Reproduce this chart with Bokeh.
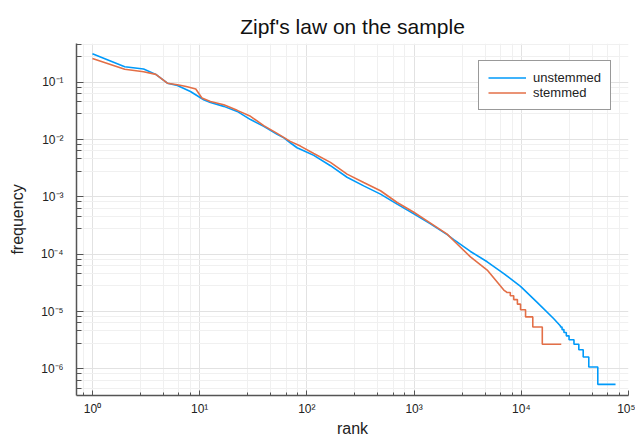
from bokeh.plotting import figure
from bokeh.models import Range1d, FixedTicker, CustomJSTickFormatter, Legend, LegendItem
from bokeh.embed import file_html
from bokeh.resources import INLINE

# ---- data (rank, relative frequency) ----
unstemmed_rank = [1, 2, 3, 3.9, 5, 6.2, 8.2, 10.9, 12.6, 16.8, 22.4, 29.8, 39.6, 52.8, 61, 70,
                  81, 93.5, 116, 166, 237, 339, 486, 695, 994, 1422, 2036, 2345, 3357, 4808,
                  6870, 9840, 14060, 20100, 23200]
unstemmed_freq = [0.313, 0.186, 0.17, 0.137, 0.096, 0.0875, 0.069, 0.0494, 0.0444, 0.0379, 0.031,
                  0.0223, 0.017, 0.0123, 0.0107, 0.0088, 0.0072, 0.0064, 0.0053, 0.0035, 0.0022,
                  0.00156, 0.00112, 0.00075, 0.000506, 0.000339, 0.00022, 0.00018, 0.000112,
                  0.000074, 0.000046, 0.0000275, 0.0000145, 0.0000075, 0.0000056]
# tail: frequency levels and the rank where each level ends
unstemmed_tail_level = [5.4e-6, 4.86e-6, 4.32e-6, 3.78e-6, 3.24e-6, 2.7e-6, 2.16e-6, 1.62e-6, 1.08e-6, 5.4e-7]
unstemmed_tail_end = [24000, 25000, 26300, 27900, 31000, 34400, 37800, 42600, 51700, 75700]

stemmed_rank = [1, 2, 3, 3.9, 5, 6.2, 7.5, 9.2, 10.5, 12.6, 16.8, 22.4, 29.8, 39.6, 52.8, 70, 87,
                116, 166, 237, 339, 486, 695, 994, 1422, 2036, 2345, 3357, 4808, 6870, 7300]
stemmed_freq = [0.26, 0.168, 0.152, 0.137, 0.096, 0.090, 0.084, 0.076, 0.053, 0.046, 0.0405,
                0.0323, 0.0254, 0.0175, 0.0128, 0.0093, 0.0077, 0.0057, 0.004, 0.0025, 0.00178,
                0.00128, 0.0008, 0.00054, 0.000349, 0.000225, 0.000172, 0.00009, 0.000053,
                0.0000238, 0.0000218]
stemmed_tail_level = [2.16e-5, 1.89e-5, 1.62e-5, 1.35e-5, 1.08e-5, 8.1e-6, 5.4e-6, 2.7e-6]
stemmed_tail_end = [7900, 8500, 9200, 9840, 10960, 12800, 15700, 23600]

x_ticks = [1, 10, 100, 1000, 10000, 100000]
y_ticks = [1e-6, 1e-5, 1e-4, 1e-3, 1e-2, 1e-1]


def with_tail(rank, freq, levels, ends):
    xs, ys = list(rank), list(freq)
    for lvl, end in zip(levels, ends):
        xs.append(xs[-1]); ys.append(lvl)
        xs.append(end); ys.append(lvl)
    return xs, ys


ux, uy = with_tail(unstemmed_rank, unstemmed_freq, unstemmed_tail_level, unstemmed_tail_end)
sx, sy = with_tail(stemmed_rank, stemmed_freq, stemmed_tail_level, stemmed_tail_end)

FONT = "Liberation Sans"

p = figure(width=635, height=439, x_axis_type="log", y_axis_type="log",
           x_range=Range1d(0.71, 1.0e5), y_range=Range1d(3.45e-7, 0.473),
           output_backend="svg", toolbar_location=None,
           min_border_left=76, min_border_right=7, min_border_top=43, min_border_bottom=41)

p.title.text = "Zipf's law on the sample"
p.title.align = "center"
p.title.text_font = FONT
p.title.text_font_size = "21px"
p.title.text_font_style = "normal"
p.title.text_color = "#111111"
p.title.standoff = 11

p.outline_line_color = None
p.background_fill_color = "white"
p.border_fill_color = "white"

r1 = p.line(ux, uy, line_color="#009AFA", line_width=1.6)
r2 = p.line(sx, sy, line_color="#E36F47", line_width=1.6)

# minor tick positions (GR style: linearly spaced inside each decade)
def minors(lo, hi):
    out = []
    for k in range(lo, hi):
        d = 10.0 ** k
        for i in range(1, 5):
            out.append(d * (1 + 1.8 * i))
    return out

fmt = CustomJSTickFormatter(code="""
const e = Math.round(Math.log10(tick));
const sup = {'-':'\u207B','0':'\u2070','1':'\u00B9','2':'\u00B2','3':'\u00B3','4':'\u2074',
             '5':'\u2075','6':'\u2076','7':'\u2077','8':'\u2078','9':'\u2079'};
return '10' + String(e).split('').map(c => sup[c]).join('');
""")

p.xaxis.ticker = FixedTicker(ticks=x_ticks, minor_ticks=minors(-1, 5))
p.yaxis.ticker = FixedTicker(ticks=y_ticks, minor_ticks=minors(-7, 0))
for ax in (p.xaxis[0], p.yaxis[0]):
    ax.formatter = fmt
    ax.axis_line_color = "#555555"
    ax.axis_line_width = 1.5
    ax.major_tick_line_color = "#555555"
    ax.minor_tick_line_color = "#555555"
    ax.major_tick_out = 0
    ax.minor_tick_out = 0
    ax.major_label_text_font = FONT
    ax.major_label_text_font_size = "12px"
    ax.major_label_text_color = "#222222"
    ax.axis_label_text_font = FONT
    ax.axis_label_text_font_size = "16px"
    ax.axis_label_text_font_style = "normal"
    ax.axis_label_text_color = "#222222"

p.xaxis.major_tick_in = 5
p.xaxis.minor_tick_in = 3
p.yaxis.major_tick_in = 7
p.yaxis.minor_tick_in = 5
p.xaxis.major_label_standoff = 6
p.yaxis.major_label_standoff = 13
p.xaxis.axis_label = "rank"
p.yaxis.axis_label = "frequency"
p.xaxis.axis_label_standoff = 1
p.yaxis.axis_label_standoff = 12

for g in (p.xgrid[0], p.ygrid[0]):
    g.grid_line_color = "#e2e2e2"
    g.grid_line_width = 1
    g.minor_grid_line_color = "#f0f0f0"
    g.minor_grid_line_width = 1

legend = Legend(items=[LegendItem(label="unstemmed", renderers=[r1]),
                       LegendItem(label="stemmed", renderers=[r2])],
                location=(402, 285), padding=9, spacing=0,
                label_height=15, glyph_height=15, glyph_width=38, label_standoff=7,
                label_text_font=FONT, label_text_font_size="13px", label_text_color="#222222",
                border_line_color="#333333", border_line_width=1,
                background_fill_color="white", background_fill_alpha=1.0, margin=0)
p.add_layout(legend)

open("out.html", "w").write(file_html(p, INLINE))
